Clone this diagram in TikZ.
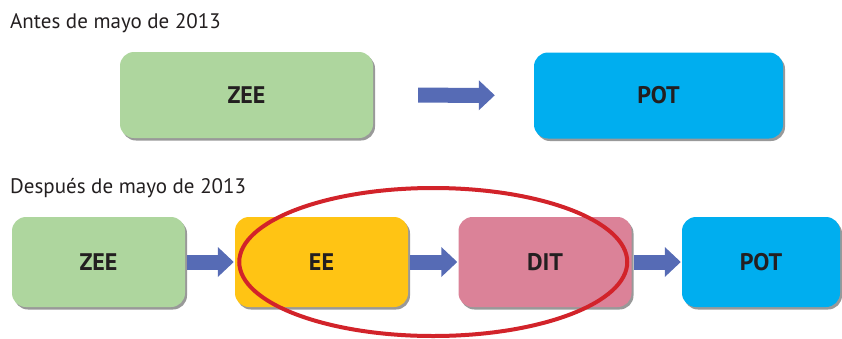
\documentclass[tikz,border=0pt]{standalone}
\usepackage{fontspec}
\setmainfont{PT Sans}
\usetikzlibrary{arrows.meta,shadows,calc}
\definecolor{verdezee}{RGB}{174,214,158}
\definecolor{azulpot}{RGB}{0,174,239}
\definecolor{amarilloee}{RGB}{255,196,20}
\definecolor{rosadit}{RGB}{219,130,152}
\definecolor{azulflecha}{RGB}{86,107,181}
\definecolor{rojo}{RGB}{210,35,42}
\definecolor{texto}{RGB}{35,31,32}
\tikzset{
  caja/.style={rounded corners=14pt, minimum width=173pt, minimum height=90pt, text=texto,
    font=\fontsize{24}{28}\selectfont\bfseries,
    drop shadow={shadow xshift=2pt, shadow yshift=-2.5pt, opacity=.4, fill=black}},
  flecha/.style={draw=azulflecha, line width=15pt, -{Triangle[length=16pt,width=29pt]}},
  titulo/.style={anchor=base west, inner sep=0pt, text=texto, font=\fontsize{21}{25}\selectfont},
}
\begin{document}
\begin{tikzpicture}[x=1pt,y=-1pt]
  \useasboundingbox (0,0) rectangle (842,338);
  % antes
  \node[titulo] (antes) at (10,28.5) {Antes de mayo de 2013};
  \node[caja, fill=verdezee, minimum width=253pt, minimum height=86pt] (zee) at (246.5,95) {ZEE};
  \node[caja, fill=azulpot, minimum width=249pt, minimum height=86pt] (pot) at (658.5,95.5) {POT};
  \draw[flecha, shorten <=45pt, shorten >=39pt] (zee) -- (pot);
  % despues
  \node[titulo] (despues) at (10,193.5) {Después de mayo de 2013};
  \node[caja, fill=verdezee] (zee2) at (98.5,262) {ZEE};
  \node[caja, fill=amarilloee] (ee) at (321.5,262) {EE};
  \node[caja, fill=rosadit] (dit) at (545,262) {DIT};
  \node[caja, fill=azulpot, minimum width=158pt] (pot2) at (761,262) {POT};
  \foreach \a/\b in {zee2/ee, ee/dit, dit/pot2}
    \draw[flecha, shorten <=2pt, shorten >=1pt] (\a) -- (\b);
  \draw[rojo, line width=4pt] ($(ee)!0.5!(dit)$) ellipse [x radius=194, y radius=74];
\end{tikzpicture}
\end{document}
